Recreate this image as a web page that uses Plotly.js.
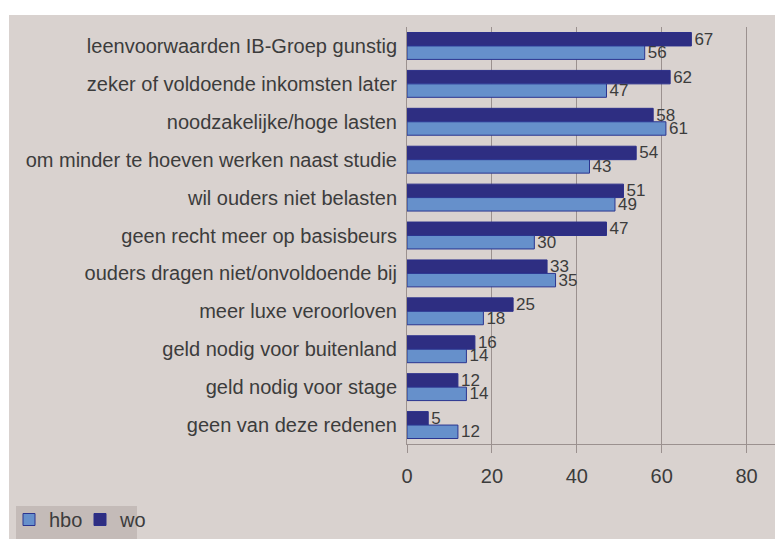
<!DOCTYPE html>
<html><head><meta charset="utf-8">
<script src="https://cdn.plot.ly/plotly-3.0.1.min.js"></script>
<style>
html,body{margin:0;padding:0;background:#ffffff;width:775px;height:539px;overflow:hidden;}
#chart{position:absolute;left:9px;top:15px;width:766px;height:524px;}
</style></head>
<body><div id="chart"></div>
<script>
const categories = [
  "leenvoorwaarden IB-Groep gunstig",
  "zeker of voldoende inkomsten later",
  "noodzakelijke/hoge lasten",
  "om minder te hoeven werken naast studie",
  "wil ouders niet belasten",
  "geen recht meer op basisbeurs",
  "ouders dragen niet/onvoldoende bij",
  "meer luxe veroorloven",
  "geld nodig voor buitenland",
  "geld nodig voor stage",
  "geen van deze redenen"
];
const woValues  = [67, 62, 58, 54, 51, 47, 33, 25, 16, 12, 5];
const hboValues = [56, 47, 61, 43, 49, 30, 35, 18, 14, 14, 12];
const xTicks = [0, 20, 40, 60, 80];

const textColor = "#3c3c3c";
const fam = '"Liberation Sans", Arial, sans-serif';
const gridCol = "#9b918f";

const traces = [
  {
    type: "bar", orientation: "h", name: "wo",
    y: categories, x: woValues,
    text: woValues.map(String), textposition: "outside", cliponaxis: false,
    constraintext: "none",
    textfont: {family: fam, size: 17, color: textColor},
    marker: {color: "#2e2e82", line: {color: "#2b2f8a", width: 1}},
    hoverinfo: "x+y"
  },
  {
    type: "bar", orientation: "h", name: "hbo",
    y: categories, x: hboValues,
    text: hboValues.map(String), textposition: "outside", cliponaxis: false,
    constraintext: "none",
    textfont: {family: fam, size: 17, color: textColor},
    marker: {color: "#6690cb", line: {color: "#2b3590", width: 1}},
    hoverinfo: "x+y"
  }
];

// plot area in div pixels: x 398..766, y 12..429
const px = v => (v - 398) / 368;
const py = v => (429 - v) / 417;

const layout = {
  width: 766, height: 524,
  paper_bgcolor: "#d9d2cf",
  plot_bgcolor: "rgba(0,0,0,0)",
  margin: {l: 398, r: 0, t: 12, b: 95, pad: 0},
  font: {family: fam, size: 20, color: textColor},
  barmode: "group",
  bargap: 0.29,
  bargroupgap: 0,
  showlegend: true,
  legend: {
    orientation: "h", traceorder: "reversed",
    xref: "container", yref: "container",
    x: 0, y: 0, xanchor: "left", yanchor: "bottom",
    bgcolor: "rgba(0,0,0,0)", font: {family: fam, size: 20, color: textColor},
    borderwidth: 0, entrywidth: 26, entrywidthmode: "pixels"
  },
  shapes: [{
    type: "rect", xref: "paper", yref: "paper", layer: "below",
    x0: px(7), x1: px(128), y0: py(524), y1: py(491),
    fillcolor: "#c4bbb8", line: {width: 0}
  }],
  xaxis: {
    range: [0, 86.7], tickvals: xTicks, ticktext: xTicks.map(String),
    showgrid: true, gridcolor: gridCol, gridwidth: 1,
    zeroline: false,
    showline: true, linecolor: gridCol, linewidth: 1,
    ticks: "outside", ticklen: 8, tickcolor: gridCol,
    ticklabelstandoff: 6,
    tickfont: {family: fam, size: 20, color: textColor},
    fixedrange: true
  },
  yaxis: {
    type: "category", autorange: "reversed",
    showgrid: false, zeroline: false,
    showline: true, linecolor: gridCol, linewidth: 1,
    ticks: "", ticklabelstandoff: 5,
    tickfont: {family: fam, size: 20, color: textColor},
    fixedrange: true
  }
};

Plotly.newPlot("chart", traces, layout, {displayModeBar: false, staticPlot: true});
</script></body></html>
